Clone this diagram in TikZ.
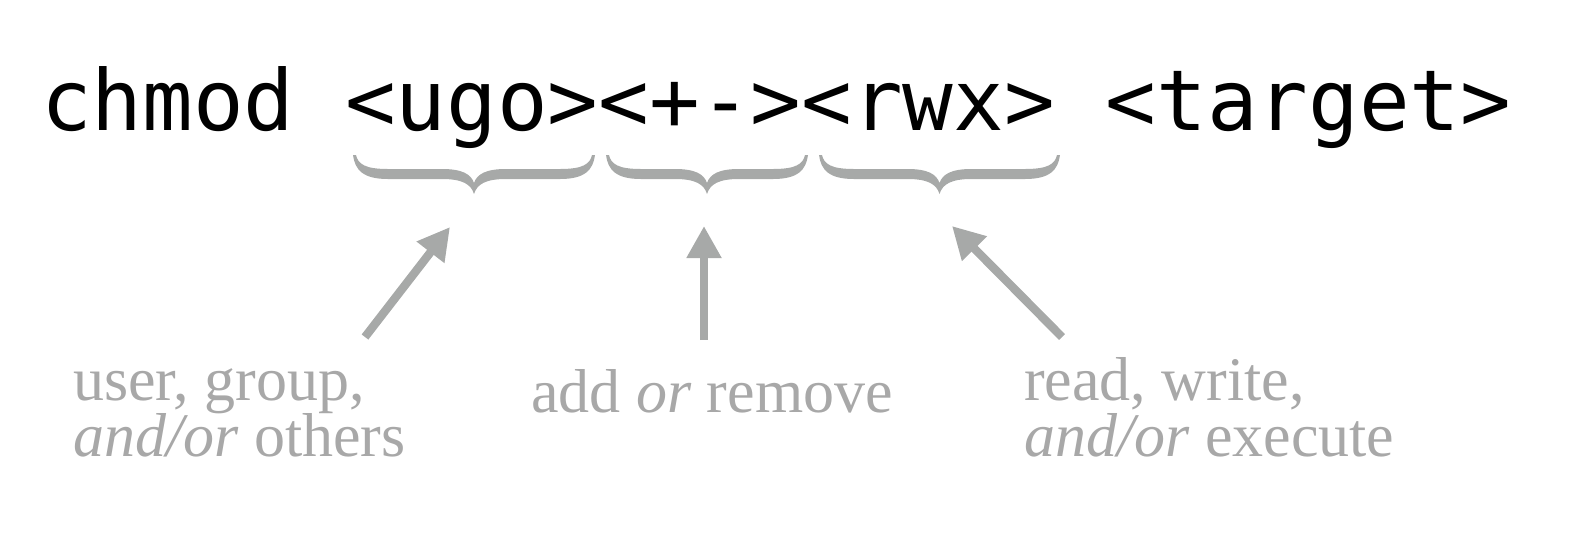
\documentclass[tikz,border=0pt]{standalone}
\usepackage{fontspec}
\setmainfont{Liberation Serif}
\newfontfamily\monof{DejaVu Sans Mono}
\usetikzlibrary{arrows.meta}
\definecolor{gcol}{RGB}{167,169,168}
\definecolor{tcol}{RGB}{168,168,168}
\newcommand\gbrace[2]{%
  \pgfmathsetmacro\bM{(#1+#2)/2}%
  \fill[gcol] (#1,155) .. controls (#1+2,170) and (#1+10,179) .. (#1+35,179)
    -- (\bM-32,179) .. controls (\bM-12,179) and (\bM-3,184) .. (\bM,194)
    .. controls (\bM+3,184) and (\bM+12,179) .. (\bM+32,179)
    -- (#2-35,179) .. controls (#2-10,179) and (#2-2,170) .. (#2,155)
    -- (#2-3,155) .. controls (#2-5,164) and (#2-12,169) .. (#2-35,169)
    -- (\bM+32,169) .. controls (\bM+12,169) and (\bM+3,174) .. (\bM,183)
    .. controls (\bM-3,174) and (\bM-12,169) .. (\bM-32,169)
    -- (#1+35,169) .. controls (#1+12,169) and (#1+5,164) .. (#1+3,155) -- cycle;%
}
\begin{document}
\begin{tikzpicture}[x=0.5pt,y=-0.5pt,
  mono/.style={inner sep=0pt,outer sep=0pt,anchor=base west,font=\monof\fontsize{42.1}{50}\selectfont},
  lbl/.style={inner sep=0pt,outer sep=0pt,anchor=base west,text=tcol,font=\fontsize{31}{36}\selectfont},
  arr/.style={draw=gcol,line width=4.2pt,-{Triangle[length=16pt,width=16.5pt]}}]
\useasboundingbox (0,0) rectangle (1580,548);
% command line
\node[mono] (cmd) at (41,130) {chmod};
\node[mono] (ugo) at (345.2,130) {<ugo>};
\node[mono] (pm) at (598.7,130) {<+->};
\node[mono] (rwx) at (801.5,130) {<rwx>};
\node[mono] (tgt) at (1105.7,130) {<target>};
% braces
\gbrace{353}{595}
\gbrace{606}{808}
\gbrace{819}{1060}
% labels
\node[lbl] (l1a) at (73,400) {user, group,};
\node[lbl] (l1b) at (73,456) {\textit{and/or} others};
\node[lbl] (l2) at (531,412) {add \textit{or} remove};
\node[lbl] (l3a) at (1024,400) {read, write,};
\node[lbl] (l3b) at (1024,456) {\textit{and/or} execute};
% arrows
\coordinate (a1t) at (365,337);
\coordinate (a1h) at (450,227);
\coordinate (a2t) at (704,340);
\coordinate (a2h) at (704,226);
\coordinate (a3t) at (1062,337);
\coordinate (a3h) at (952,226);
\draw[arr] (a1t) -- (a1h);
\draw[arr] (a2t) -- (a2h);
\draw[arr] (a3t) -- (a3h);
\end{tikzpicture}
\end{document}
